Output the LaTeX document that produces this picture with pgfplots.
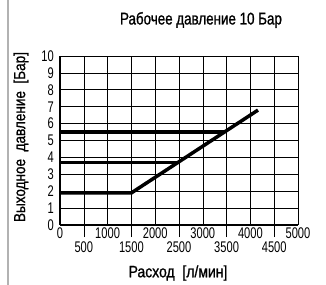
\documentclass[border=0pt]{standalone}
\usepackage{fontspec}
\setmainfont[FakeStretch=0.72]{Liberation Sans}
\newfontfamily\titlefont[FakeStretch=0.79, FakeBold=1]{Liberation Sans}
\newfontfamily\labelfont[FakeStretch=0.85, FakeBold=1]{Liberation Sans}
\usepackage{pgfplots}
\pgfplotsset{compat=1.18}
\begin{document}
\begin{tikzpicture}[x=1bp,y=1bp]
\useasboundingbox (0,0) rectangle (326,285);
\draw[gray!60, line width=1.5bp] (8,0) -- (8,285);
\begin{axis}[
  at={(60bp,60bp)}, anchor=south west, scale only axis,
  width=238bp, height=169bp,
  xmin=0, xmax=5000, ymin=0, ymax=10,
  xtick={0,1000,2000,3000,4000,5000},
  ytick={0,1,2,3,4,5,6,7,8,9,10},
  extra x ticks={500,1500,2500,3500,4500},
  extra x tick style={grid=major, major tick length=12bp, tick align=outside,
     tick style={black, line width=0.6bp}, tick label style={yshift=-2bp}},
  major tick length=0pt,
  grid=major, grid style={black, line width=0.6bp},
  axis x line*=bottom, axis y line*=left,
  axis line style={line width=1.6bp, -},
  scaled x ticks=false,
  /pgf/number format/set thousands separator={},
  /pgf/number format/assume math mode=true,
  tick label style={font=\fontsize{15.5}{15.5}\selectfont},
  xticklabel style={yshift=-2bp, inner sep=1bp},
  yticklabel style={xshift=-5bp, inner sep=1bp},
  clip=false,
]
\addplot[black, line width=3.5bp] coordinates {(0,1.9) (1500,1.9) (4160,6.8)};
\addplot[black, line width=3.5bp] coordinates {(0,3.7) (2500,3.7)};
\addplot[black, line width=3.5bp] coordinates {(0,5.5) (3460,5.5)};
\end{axis}
\node[font=\titlefont\fontsize{17}{17}\selectfont] at (201,265) {Рабочее давление 10 Бар};
\node[font=\labelfont\fontsize{16}{16}\selectfont, rotate=90] at (21,148) {Выходное~~давление~~[Бар]};
\node[font=\labelfont\fontsize{16.5}{16.5}\selectfont] at (178,12) {Расход~~[л/мин]};
\end{tikzpicture}
\end{document}
